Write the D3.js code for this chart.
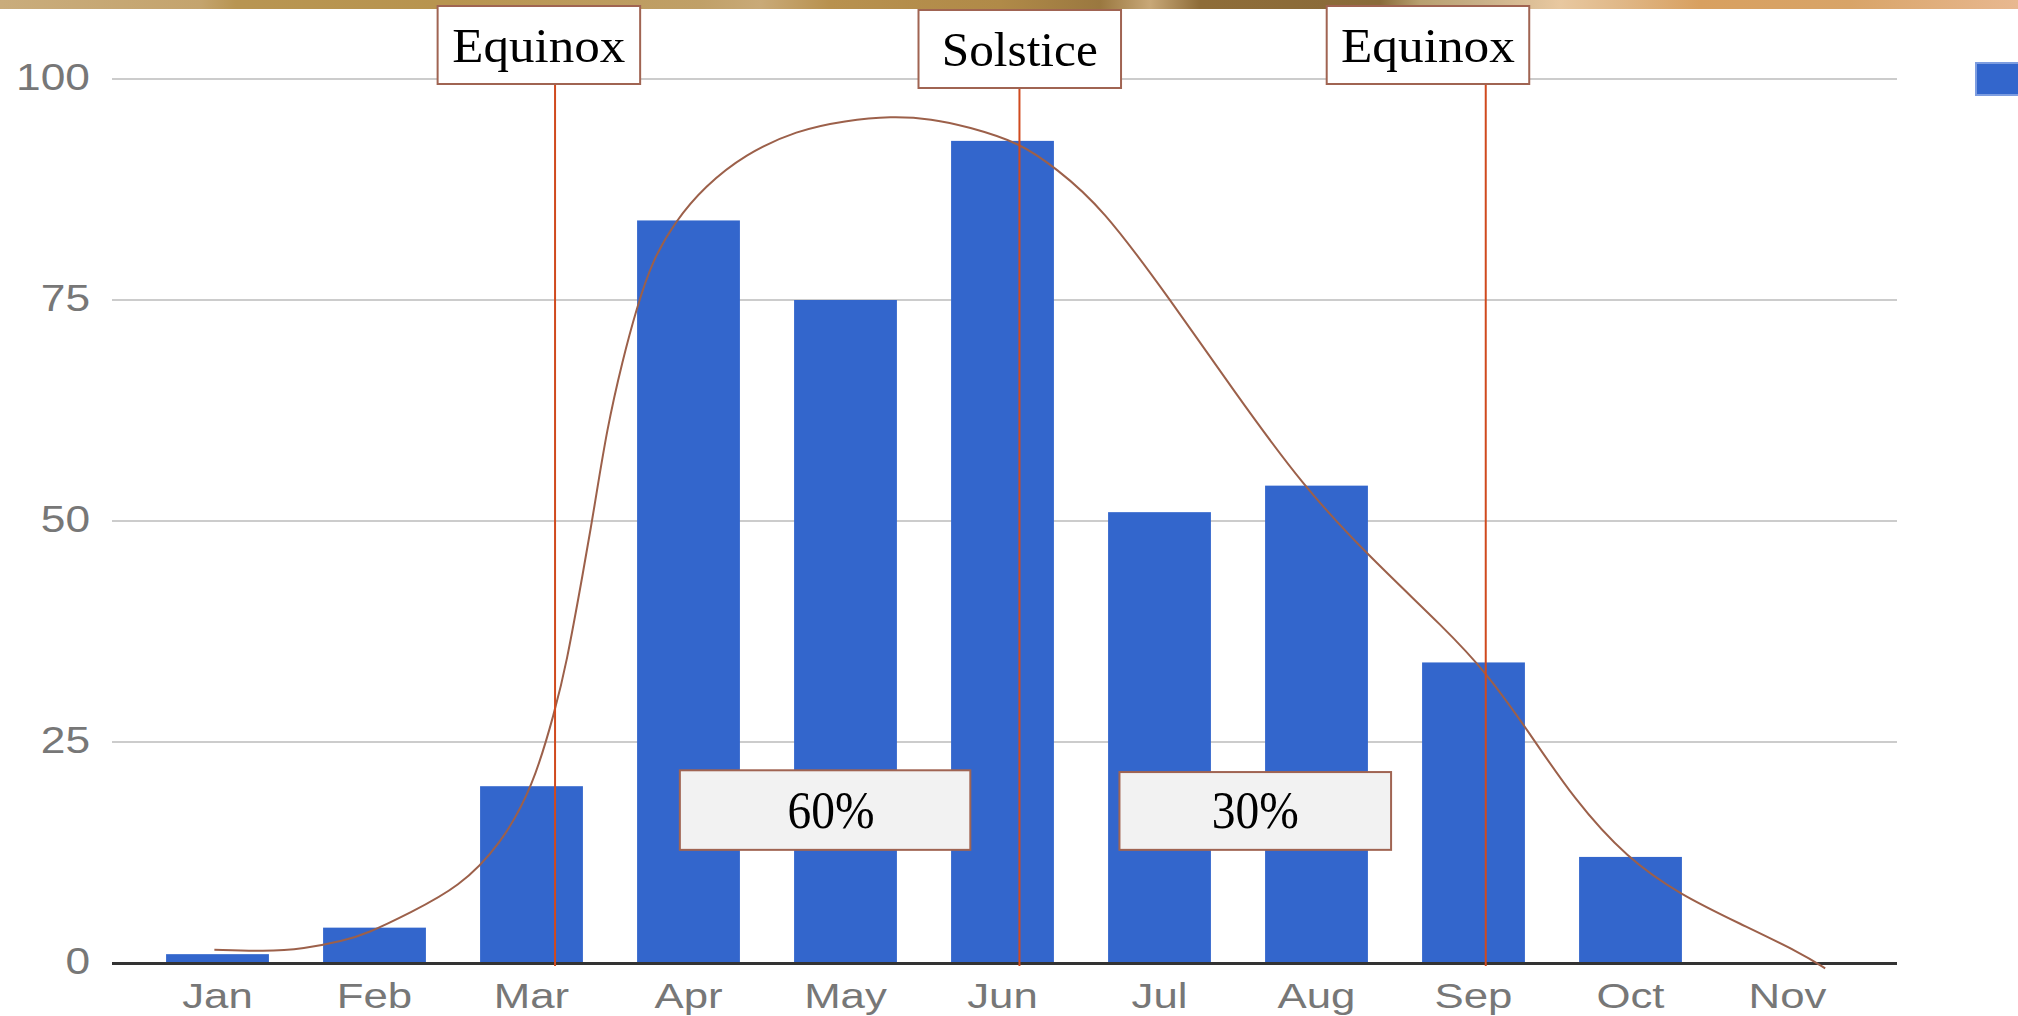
<!DOCTYPE html>
<html>
<head>
<meta charset="utf-8">
<script src="https://cdn.jsdelivr.net/npm/d3@7"></script>
<style>
  html, body { margin: 0; padding: 0; background: #fff; overflow: hidden; }
  svg { display: block; }
</style>
</head>
<body>
<svg id="chart" width="2018" height="1016"></svg>
<script>
// ---------------- data ----------------
const months = ["Jan", "Feb", "Mar", "Apr", "May", "Jun", "Jul", "Aug", "Sep", "Oct", "Nov"];
const values = [1, 4, 20, 84, 75, 93, 51, 54, 34, 12, 0];
const yTicks = [0, 25, 50, 75, 100];

// event markers: label, month, offset past the month centre (fraction of a month step)
const markerLabels = ["Equinox", "Solstice", "Equinox"];
const markerMonths = ["Mar", "Jun", "Sep"];
const markerOffsets = [0.15, 0.108, 0.078];

// share annotations
const shareLabels = ["60%", "30%"];

// hand-drawn trend curve: [month index, value]
const trendIndex = [-0.02, 0.3, 0.55, 0.8, 0.95, 1.23, 1.54, 1.80, 2.01, 2.15, 2.22, 2.33, 2.40, 2.48, 2.58, 2.67, 2.77, 2.92, 3.1, 3.36, 3.69, 4.0, 4.29, 4.55, 4.78, 5.11, 5.34, 5.63, 6.07, 6.47, 6.92, 7.34, 7.82, 8.08, 8.35, 8.64, 8.98, 9.32, 9.69, 10.09, 10.24];
const trendValue = [1.5, 1.3, 1.6, 2.5, 3.3, 5.7, 8.6, 13.3, 19.9, 28.6, 33.6, 44.3, 51.5, 60.4, 68.2, 74.1, 79.5, 84.0, 87.8, 91.5, 94.2, 95.3, 95.8, 95.5, 94.6, 92.8, 89.9, 85.6, 75.0, 64.8, 53.8, 45.9, 37.8, 32.9, 26.2, 18.5, 11.8, 7.7, 4.5, 1.1, -0.6];

// ---------------- layout ----------------
const W = 2018, H = 1016;
const plotLeft = 112, plotRight = 1897;
const svg = d3.select("#chart");

const x = d3.scaleBand().domain(months).range([139, 1866]).paddingInner(0.345).paddingOuter(0.1725);
const bw = x.bandwidth();
const xi = d3.scaleLinear().domain([0, months.length - 1])
  .range([x(months[0]) + bw / 2, x(months[months.length - 1]) + bw / 2]);
const y = d3.scaleLinear().domain([0, 100]).range([963, 79]);

// top decorative banner
const defs = svg.append("defs");
const grad = defs.append("linearGradient").attr("id", "banner").attr("x1", 0).attr("x2", 1).attr("y1", 0).attr("y2", 0);
[[0, "#C9AC7C"], [200, "#C4A46E"], [236, "#B89552"], [450, "#B8944F"], [700, "#C0A068"], [760, "#C9AA78"],
 [830, "#B8914F"], [1000, "#B08A48"], [1100, "#9A7840"], [1150, "#C8A878"], [1200, "#8E6C38"], [1380, "#8A6B3A"],
 [1420, "#B8A070"], [1480, "#C8B088"], [1560, "#E8C8A0"], [1620, "#E0B888"], [1700, "#D8A060"], [1850, "#D8A468"],
 [2018, "#E8B890"]].forEach(([o, c]) => grad.append("stop").attr("offset", o / W).attr("stop-color", c));
svg.append("rect").attr("x", 0).attr("y", 0).attr("width", W).attr("height", 9).attr("fill", "url(#banner)");

// gridlines
svg.append("g").selectAll("line").data(yTicks.filter(d => d > 0)).join("line")
  .attr("x1", plotLeft).attr("x2", plotRight)
  .attr("y1", d => y(d)).attr("y2", d => y(d))
  .attr("stroke", "#cccccc").attr("stroke-width", 2);

// stretch helper for text (reference glyphs are horizontally stretched)
function stretch(sel, k) {
  sel.each(function () {
    const w = this.getComputedTextLength();
    d3.select(this).attr("textLength", w * k).attr("lengthAdjust", "spacingAndGlyphs");
  });
}
function fitWidth(sel, w) {
  sel.attr("textLength", w).attr("lengthAdjust", "spacingAndGlyphs");
}

// y axis labels
const yAxis = svg.append("g").attr("transform", "translate(90,0)")
  .call(d3.axisLeft(y).tickValues(yTicks).tickSize(0).tickPadding(0));
yAxis.select(".domain").remove();
yAxis.selectAll("text")
  .attr("font-family", "'Liberation Sans', Arial, sans-serif")
  .attr("font-size", 36).attr("fill", "#777").attr("dy", "0.30em")
  .call(stretch, 1.23);

// bars
svg.append("g").selectAll("rect").data(values).join("rect")
  .attr("x", (d, i) => x(months[i]))
  .attr("width", bw)
  .attr("y", d => y(d))
  .attr("height", d => y(0) - y(d))
  .attr("fill", "#3366CC");

// baseline
svg.append("line").attr("x1", plotLeft).attr("x2", plotRight)
  .attr("y1", y(0) + 0.5).attr("y2", y(0) + 0.5)
  .attr("stroke", "#333").attr("stroke-width", 3);

// x axis labels
const xAxis = svg.append("g").attr("transform", `translate(0,${y(0)})`)
  .call(d3.axisBottom(x).tickSize(0).tickPadding(0));
xAxis.select(".domain").remove();
xAxis.selectAll("text")
  .attr("font-family", "'Liberation Sans', Arial, sans-serif")
  .attr("font-size", 35).attr("fill", "#777").attr("y", 45).attr("dy", 0)
  .call(stretch, 1.25);

// trend curve
const trend = trendIndex.map((t, i) => [t, trendValue[i]]);
svg.append("path").datum(trend)
  .attr("d", d3.line().x(d => xi(d[0])).y(d => y(d[1])).curve(d3.curveBasis))
  .attr("fill", "none").attr("stroke", "#9C604A").attr("stroke-width", 2);

// event markers (box layout: centre in month units, width in month steps)
const step = x.step();
const boxCentres = [2.047, 5.11, 7.71];
const boxTops = [6, 10, 6], boxBottoms = [84, 88, 84];
const markerTextW = [173, 156, 174];
const mk = svg.append("g");
markerLabels.forEach((lab, i) => {
  const lx = x(markerMonths[i]) + bw / 2 + markerOffsets[i] * step;
  mk.append("line").attr("x1", lx).attr("x2", lx)
    .attr("y1", boxBottoms[i] + 1).attr("y2", y(0) + 3)
    .attr("stroke", "#D04A1E").attr("stroke-width", 2);
  const cx = xi(boxCentres[i]);
  const bwid = 1.29 * step;
  mk.append("rect").attr("x", cx - bwid / 2).attr("y", boxTops[i])
    .attr("width", bwid).attr("height", boxBottoms[i] - boxTops[i])
    .attr("fill", "#fff").attr("stroke", "#A06452").attr("stroke-width", 2);
  mk.append("text").attr("x", cx).attr("y", boxBottoms[i] - 22)
    .attr("text-anchor", "middle")
    .attr("font-family", "'Liberation Serif', 'Times New Roman', serif")
    .attr("font-size", 49).attr("fill", "#000")
    .text(lab).call(fitWidth, markerTextW[i]);
});

// share boxes
const shareCentres = [3.87, 6.61];
const shareSpans = [1.85, 1.73];
const shareTopVal = [21.8, 21.6], shareBottomVal = [12.8, 12.8];
const sh = svg.append("g");
shareLabels.forEach((lab, i) => {
  const cx = xi(shareCentres[i]);
  const w = shareSpans[i] * step;
  sh.append("rect").attr("x", cx - w / 2).attr("y", y(shareTopVal[i]))
    .attr("width", w).attr("height", y(shareBottomVal[i]) - y(shareTopVal[i]))
    .attr("fill", "#F2F2F2").attr("stroke", "#A06452").attr("stroke-width", 2);
  sh.append("text").attr("x", cx + (i === 0 ? 6 : 0)).attr("y", y(shareBottomVal[i]) - 22)
    .attr("text-anchor", "middle")
    .attr("font-family", "'Liberation Serif', 'Times New Roman', serif")
    .attr("font-size", 53).attr("fill", "#000")
    .text(lab).call(fitWidth, 87);
});

// legend swatch (cut off at right edge)
svg.append("rect").attr("x", 1976).attr("y", 63).attr("width", 60).attr("height", 32)
  .attr("fill", "#3366CC").attr("stroke", "#7D9DE0").attr("stroke-width", 2);
</script>
</body>
</html>
